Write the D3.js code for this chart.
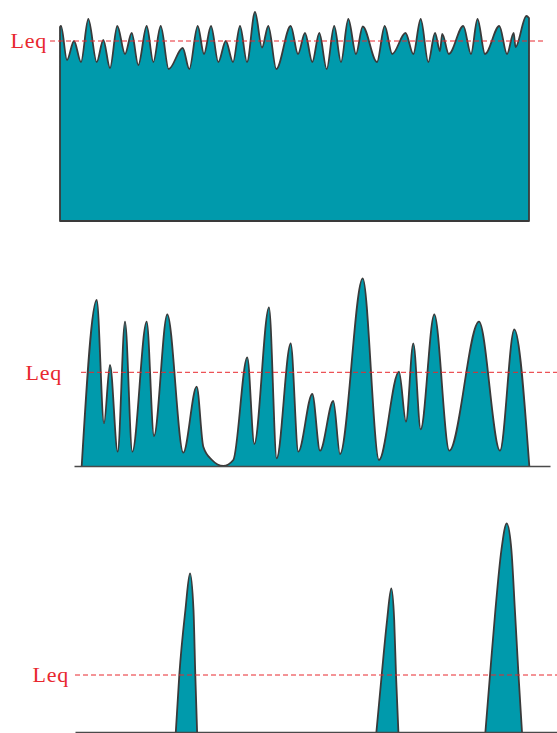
<!DOCTYPE html>
<html>
<head>
<meta charset="utf-8">
<script src="https://cdn.jsdelivr.net/npm/d3@7"></script>
<style>
  html, body { margin: 0; padding: 0; background: #fff; }
  svg { display: block; }
</style>
</head>
<body>
<svg id="chart" width="557" height="733"></svg>
<script>
// ---------- DATA (time index, sound level in arbitrary units) ----------
// Panel 1: continuous high level noise
const panel1Time = [0, 1, 7, 14, 21, 28.3, 36.7, 43.3, 50, 57.3, 65, 71.7, 78.3, 86.7, 93.3, 100.7,
  108.7, 122.7, 129.3, 137.7, 144, 151, 158.3, 165.8, 173, 180, 187, 195, 202, 208.3, 216.3,
  230.7, 238, 245, 252.3, 259.3, 266.7, 274.2, 281, 288.3, 296, 302.7, 317, 324.7, 332.2,
  345.5, 353.3, 360.7, 368.3, 375, 380, 382.2, 388.8, 403.3, 411, 417.5, 425, 439.3, 447,
  453.7, 455.5, 466.4, 469];
const panel1Level = [194, 195, 161, 180, 159, 202, 159, 181, 153, 195, 167, 188, 156, 195, 159, 195,
  152, 173, 152, 195, 167, 195, 159, 180, 159, 195, 159, 209, 173.5, 195, 152,
  195, 167, 188, 159, 188, 152, 195, 159, 202, 167, 194.5, 159, 195, 167,
  188, 167, 202, 159, 188, 170, 187, 167, 195, 167, 202, 167, 195, 167,
  188, 174, 205, 203];

// Panel 2: fluctuating level
const panel2Time = [7.7, 22.7, 30, 36, 43.7, 51, 58.3, 72.7, 80, 93.3, 109.3, 122.7, 129.3, 138,
  149.3, 159.3, 173.3, 180.3, 195, 202.7, 216.7, 224.3, 238.3, 246, 259.3, 266, 288.7, 305,
  325, 332, 339.3, 346.7, 360.3, 375.3, 405, 426, 440.3, 455.3];
const panel2Level = [0, 166, 42.7, 101, 14.3, 144.3, 14.3, 144.3, 30, 151.7, 13.3, 79.3, 19.3, 6,
  0, 6, 108.7, 22, 158.7, 7.7, 122.7, 14.3, 72, 15.3, 65, 12, 187.7, 6,
  94.3, 44.3, 122.7, 36.7, 151.7, 15.3, 144.3, 15.3, 136.7, 0];

// Panel 3: three isolated events
const event1Time = [100.8, 104.3, 110.4, 115, 118.5, 120.3, 122.1];
const event1Level = [0, 57, 122, 158.7, 122, 57, 0];
const event2Time = [301.4, 306.7, 312.1, 316.3, 319.2, 321, 323.4];
const event2Level = [0, 57, 112, 143.7, 112, 57, 0];
const event3Time = [410.4, 415, 420.4, 426.4, 431.7, 436.4, 439.9, 443.5, 447];
const event3Level = [0, 57, 122, 182, 208.7, 182, 122, 57, 0];

// Equivalent continuous level per panel
const leqLevels = [180, 93.7, 57];
const leqLabel = "Leq";

// ---------- STYLE / LAYOUT ----------
const TEAL = "#009aac";
const EDGE = "#3a3a3a";
const RED = "#e8282e";

const layout = [
  { xDomain: [0, 470], xRange: [60, 530], yDomain: [0, 210], yRange: [221, 11],
    leqX: [50, 545], labelX: 47, closed: true, axis: null },
  { xDomain: [0, 476], xRange: [74, 550], yDomain: [0, 200], yRange: [466, 266],
    leqX: [81, 557], labelX: 62, closed: false, axis: true },
  { xDomain: [0, 482], xRange: [75, 557], yDomain: [0, 220], yRange: [732, 512],
    leqX: [75, 557], labelX: 69, closed: false, axis: true }
];

const zip = (t, l) => t.map((d, i) => ({ t: d, v: l[i] }));
const panelSeries = [
  [zip(panel1Time, panel1Level)],
  [zip(panel2Time, panel2Level)],
  [zip(event1Time, event1Level), zip(event2Time, event2Level), zip(event3Time, event3Level)]
];

const svg = d3.select("#chart");

layout.forEach((cfg, pi) => {
  const x = d3.scaleLinear().domain(cfg.xDomain).range(cfg.xRange);
  const y = d3.scaleLinear().domain(cfg.yDomain).range(cfg.yRange);
  const g = svg.append("g");

  const area = d3.area()
    .x(d => x(d.t)).y0(y(0)).y1(d => y(d.v))
    .curve(d3.curveMonotoneX);
  const line = d3.line()
    .x(d => x(d.t)).y(d => y(d.v))
    .curve(d3.curveMonotoneX);

  panelSeries[pi].forEach(series => {
    g.append("path")
      .attr("d", area(series))
      .attr("fill", TEAL)
      .attr("stroke", cfg.closed ? EDGE : "none")
      .attr("stroke-width", 1.8)
      .attr("stroke-linejoin", "round");
    if (!cfg.closed) {
      g.append("path")
        .attr("d", line(series))
        .attr("fill", "none")
        .attr("stroke", EDGE)
        .attr("stroke-width", 1.8)
        .attr("stroke-linejoin", "round");
    }
  });

  if (cfg.axis) {
    const ax = g.append("g")
      .attr("transform", `translate(0,${y(0)})`)
      .call(d3.axisBottom(x).ticks(0).tickSizeOuter(0));
    ax.select(".domain").attr("stroke", "#4a4a4a").attr("stroke-width", 1.5);
    ax.selectAll("text").remove();
  }

  const ly = y(leqLevels[pi]);
  g.append("line")
    .attr("x1", cfg.leqX[0]).attr("x2", cfg.leqX[1])
    .attr("y1", ly).attr("y2", ly)
    .attr("stroke", RED).attr("stroke-width", 1)
    .attr("stroke-dasharray", "5,3");

  g.append("text")
    .attr("x", cfg.labelX).attr("y", ly)
    .attr("dy", "0.33em")
    .attr("text-anchor", "end")
    .attr("font-family", "'Liberation Serif', 'DejaVu Serif', serif")
    .attr("font-size", 22)
    .attr("letter-spacing", 0.8)
    .attr("fill", RED)
    .text(leqLabel);
});
</script>
</body>
</html>
